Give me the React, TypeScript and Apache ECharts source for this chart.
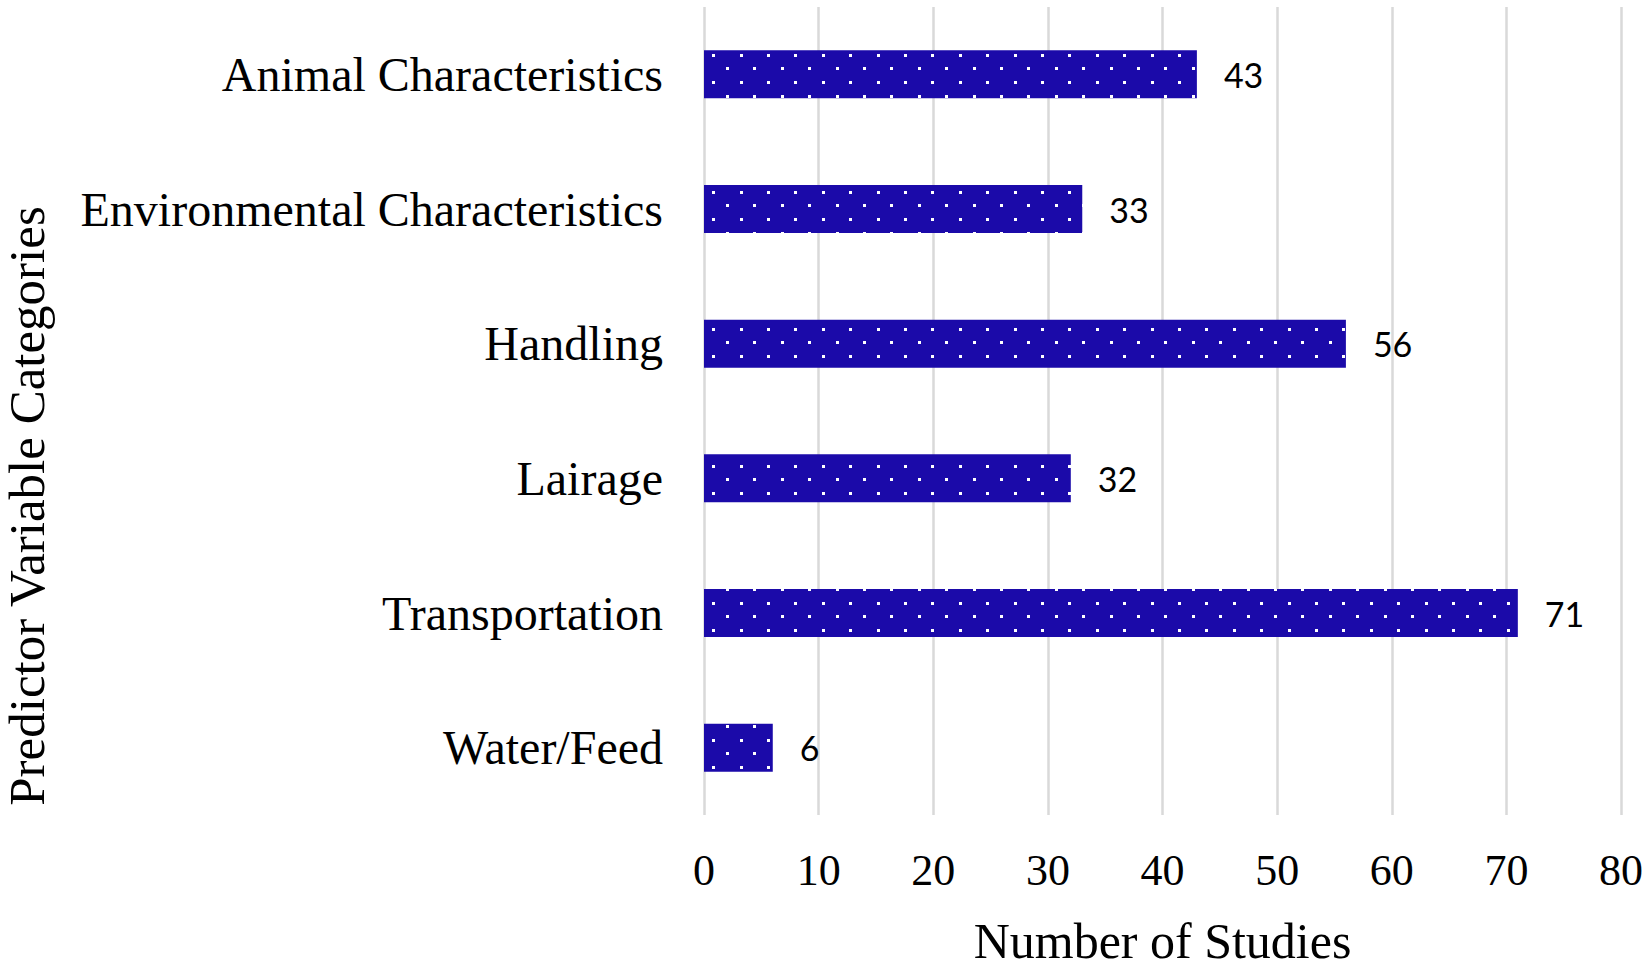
import React, { useEffect, useRef } from "react";
import * as echarts from "echarts";

const categories = [
  "Animal Characteristics",
  "Environmental Characteristics",
  "Handling",
  "Lairage",
  "Transportation",
  "Water/Feed",
];
const studyCounts = [43, 33, 56, 32, 71, 6];
const xTicks = { min: 0, max: 80, interval: 10 };

function makeDotPattern(): HTMLCanvasElement {
  const size = 274;
  const period = 27.4;
  const c = document.createElement("canvas");
  c.width = size;
  c.height = size;
  const ctx = c.getContext("2d")!;
  ctx.fillStyle = "#1b0aa9";
  ctx.fillRect(0, 0, size, size);
  ctx.fillStyle = "#ffffff";
  const put = (cx: number, cy: number) => {
    for (const dx of [-size, 0, size]) {
      for (const dy of [-size, 0, size]) {
        ctx.fillRect(Math.round(cx - 1.5 + dx), Math.round(cy - 1.5 + dy), 3, 3);
      }
    }
  };
  for (let i = 0; i < 10; i++) {
    for (let j = 0; j < 10; j++) {
      put(1.3 + period * i, 0.4 + period * j);
      put(15.0 + period * i, 14.1 + period * j);
    }
  }
  return c;
}

export default function App() {
  const ref = useRef<HTMLDivElement>(null);
  useEffect(() => {
    document.body.style.margin = "0";
    if (!ref.current) return;
    const chart = echarts.init(ref.current, null, { renderer: "svg" });
    const pattern = makeDotPattern();
    chart.setOption({
      animation: false,
      backgroundColor: "#ffffff",
      grid: { left: 704, right: 22, top: 7, bottom: 150, containLabel: false },
      xAxis: {
        type: "value",
        min: xTicks.min,
        max: xTicks.max,
        interval: xTicks.interval,
        axisLine: { show: false },
        axisTick: { show: false },
        splitLine: { show: true, lineStyle: { color: "#d9d9d9", width: 2.5 } },
        axisLabel: {
          margin: 33,
          color: "#000",
          fontFamily: "Liberation Serif",
          fontSize: 44,
        },
        name: "Number of Studies",
        nameLocation: "middle",
        nameGap: 101,
        nameTextStyle: {
          color: "#000",
          fontFamily: "Liberation Serif",
          fontSize: 50,
        },
      },
      yAxis: {
        type: "category",
        data: categories,
        inverse: true,
        axisLine: { show: false },
        axisTick: { show: false },
        splitLine: { show: false },
        axisLabel: {
          margin: 41,
          color: "#000",
          fontFamily: "Liberation Serif",
          fontSize: 48,
        },
      },
      graphic: [
        {
          type: "text",
          x: 27,
          y: 506,
          rotation: Math.PI / 2,
          style: {
            text: "Predictor Variable Categories",
            fill: "#000",
            font: '51px "Liberation Serif"',
            lineHeight: 51,
            align: "center",
            verticalAlign: "middle",
          },
        },
      ],
      series: [
        {
          type: "bar",
          data: studyCounts,
          barWidth: 48,
          itemStyle: {
            color: { image: pattern, repeat: "repeat" },
          },
          label: {
            show: true,
            position: "right",
            distance: 27,
            color: "#000",
            fontFamily: "Lato",
            fontSize: 34,
          },
        },
      ],
    });
    return () => chart.dispose();
  }, []);
  return <div ref={ref} style={{ width: 1646, height: 971 }} />;
}
